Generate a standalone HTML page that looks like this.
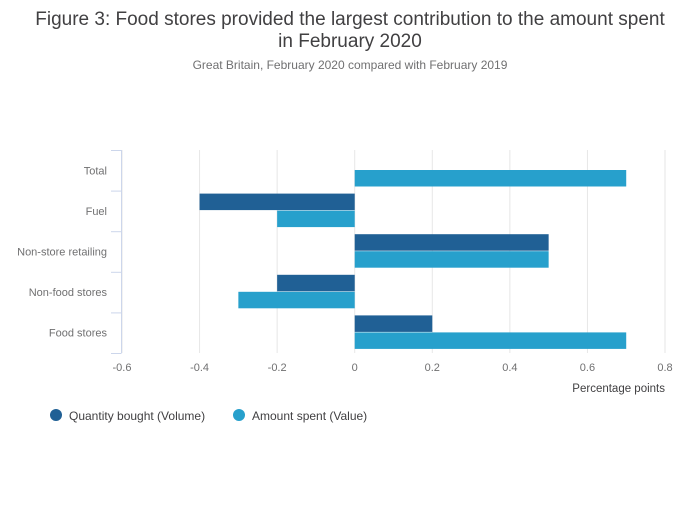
<!DOCTYPE html>
<html><head><meta charset="utf-8"><style>
body{margin:0;background:#fff;width:700px;height:502px;overflow:hidden;font-family:"Liberation Sans",sans-serif}
</style></head><body>
<svg id="chart" width="700" height="502" xmlns="http://www.w3.org/2000/svg">
<text x="350" y="25" text-anchor="middle" font-size="19" fill="#414042">Figure 3: Food stores provided the largest contribution to the amount spent</text>
<text x="350" y="47" text-anchor="middle" font-size="19" fill="#414042">in February 2020</text>
<text x="350" y="69" text-anchor="middle" font-size="12" fill="#707071">Great Britain, February 2020 compared with February 2019</text>
<g id="grid"></g><g id="bars"></g><g id="axes"></g>
<text x="665" y="392" text-anchor="end" font-size="11.5" fill="#414042">Percentage points</text>
<g>
<circle cx="56" cy="415" r="6" fill="#206095"/>
<text x="69" y="420" font-size="12" fill="#414042">Quantity bought (Volume)</text>
<circle cx="239" cy="415" r="6" fill="#27a0cc"/>
<text x="252" y="420" font-size="12" fill="#414042">Amount spent (Value)</text>
</g>
</svg>
<script>
const categories=["Total","Fuel","Non-store retailing","Non-food stores","Food stores"];
const volumeValues=[0,-0.4,0.5,-0.2,0.2];
const valueValues=[0.7,-0.2,0.5,-0.3,0.7];
const xTicks=[-0.6,-0.4,-0.2,0,0.2,0.4,0.6,0.8];
const NS="http://www.w3.org/2000/svg";
const x0=122,x1=665,xmin=-0.6,xmax=0.8,plotTop=150,plotBottom=353;
const X=v=>x0+(v-xmin)/(xmax-xmin)*(x1-x0);
const rowH=(plotBottom-plotTop)/categories.length;
const Y=i=>plotTop+i*rowH;
function mk(tag,attrs,parent){const e=document.createElementNS(NS,tag);for(const k in attrs)e.setAttribute(k,attrs[k]);parent.appendChild(e);return e;}
const grid=document.getElementById('grid'),bars=document.getElementById('bars'),axes=document.getElementById('axes');
xTicks.forEach(t=>{
 const l=mk('line',{x1:X(t),x2:X(t),y1:plotTop,y2:plotBottom,stroke:'#e6e6e6','stroke-width':1},grid);
 
 
 const tx=mk('text',{x:X(t),y:371,'text-anchor':'middle','font-size':11,fill:'#707071'},axes);
 tx.textContent=String(t);
 
 
});
const ax=mk('line',{x1:121.5,x2:121.5,y1:plotTop,y2:plotBottom,stroke:'#ccd6eb','stroke-width':1},axes);


for(let i=0;i<=categories.length;i++){
 const tk=mk('line',{x1:111,x2:121.5,y1:Y(i)+0.5,y2:Y(i)+0.5,stroke:'#ccd6eb','stroke-width':1},axes);
 
 
}
categories.forEach((c,i)=>{
 const t=mk('text',{x:107,y:Y(i)+rowH/2+4,'text-anchor':'end','font-size':11,fill:'#707071'},axes);
 t.textContent=c;
 
 
 [[volumeValues[i],'#206095',3,'volume'],[valueValues[i],'#27a0cc',20,'value']].forEach(([v,col,off,nm])=>{
  if(!v)return;
  const a=Math.min(X(0),X(v)),w=Math.abs(X(v)-X(0));
  const r=mk('rect',{x:a,y:Y(i)+off,width:w,height:16.5,fill:col},bars);
  
  
 });
});
</script>
</body></html>
